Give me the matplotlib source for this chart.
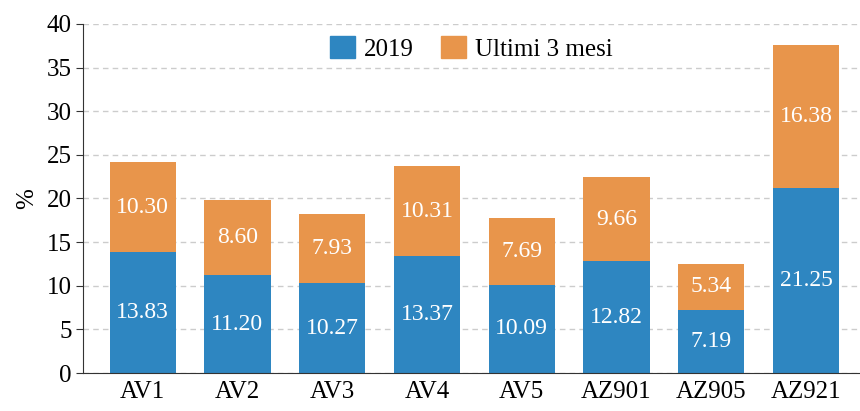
import numpy as np
import matplotlib
matplotlib.use('Agg')
import matplotlib.pyplot as plt
from matplotlib.patches import Patch

categories = ['AV1', 'AV2', 'AV3', 'AV4', 'AV5', 'AZ901', 'AZ905', 'AZ921']
v2019 = [13.83, 11.20, 10.27, 13.37, 10.09, 12.82, 7.19, 21.25]
vlast3 = [10.30, 8.60, 7.93, 10.31, 7.69, 9.66, 5.34, 16.38]
series_names = ['2019', 'Ultimi 3 mesi']

blue = '#2e86c1'
orange = '#e8954b'

plt.rcParams['font.family'] = ['Liberation Serif', 'DejaVu Serif']

fig = plt.figure(figsize=(8.6, 4.11), dpi=100)
ax = fig.add_axes([83 / 860, 38 / 411, 1 - 83 / 860, 349 / 411])

x = np.arange(len(categories))
w = 0.7
ax.bar(x, v2019, w, color=blue, zorder=2)
ax.bar(x, vlast3, w, bottom=v2019, color=orange, zorder=2)

for i in range(len(categories)):
    ax.text(x[i], v2019[i] / 2, f'{v2019[i]:.2f}', ha='center', va='center',
            color='white', fontsize=17, zorder=3)
    ax.text(x[i], v2019[i] + vlast3[i] / 2, f'{vlast3[i]:.2f}', ha='center',
            va='center', color='white', fontsize=17, zorder=3)

ax.set_xlim(-0.63, 7.57)
ax.set_ylim(0, 40)
ax.set_yticks(range(0, 41, 5))
ax.set_xticks(x)
ax.set_xticklabels(categories)
ax.tick_params(axis='both', labelsize=18, color='#333333')
ax.tick_params(axis='x', length=0, pad=6)
ax.tick_params(axis='y', length=5, pad=3)
ax.set_ylabel('%', fontsize=18, labelpad=6)
ax.yaxis.grid(True, linestyle=(0, (4, 3)), color='#cccccc', linewidth=1, zorder=0)
for s in ['top', 'right']:
    ax.spines[s].set_visible(False)
ax.spines['left'].set_color('#333333')
ax.spines['bottom'].set_color('#333333')

handles = [Patch(color=blue), Patch(color=orange)]
ax.legend(handles, series_names, loc='upper center', bbox_to_anchor=(0.5, 1.03),
          ncol=2, frameon=False, fontsize=18, handlelength=1.0, handleheight=1.0,
          columnspacing=1.1, handletextpad=0.35)

plt.savefig('out.png')
